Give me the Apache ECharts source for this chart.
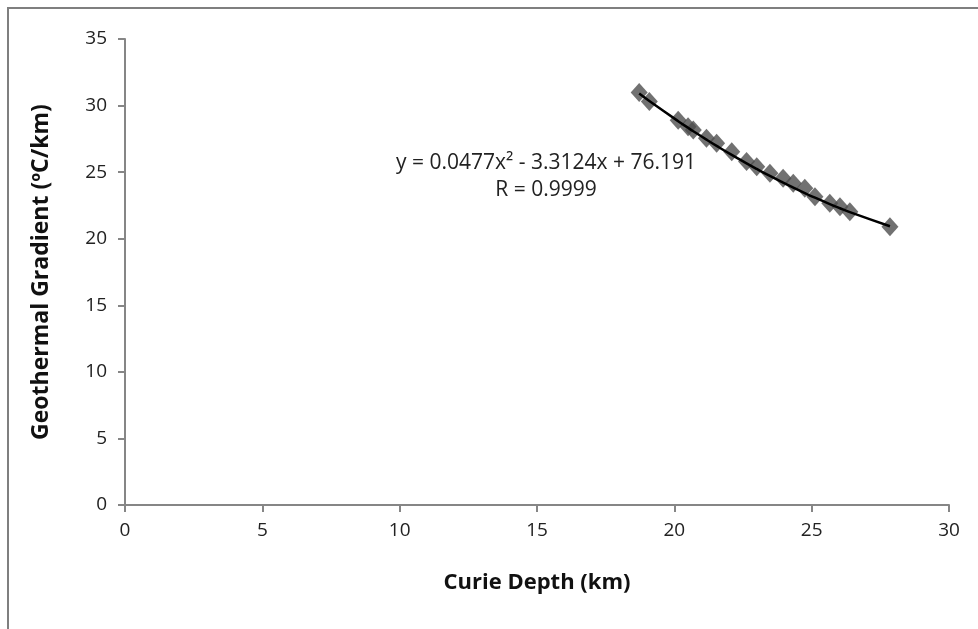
<!DOCTYPE html>
<html>
<head>
<meta charset="utf-8">
<script src="https://cdn.jsdelivr.net/npm/echarts@6/dist/echarts.min.js"></script>
<style>
  html, body { margin: 0; padding: 0; background: #fff; }
  #main { width: 978px; height: 629px; }
</style>
</head>
<body>
<div id="main"></div>
<script>
const chart = echarts.init(document.getElementById('main'))

// Curie depth (km) and geothermal gradient (°C/km)
const curieDepth = [18.72, 19.09, 20.14, 20.5, 20.69, 21.17, 21.54, 22.09, 22.63, 23.0, 23.48, 23.96, 24.33, 24.75, 25.12, 25.66, 26.03, 26.39, 27.85]
const gradient = [30.98, 30.3, 28.9, 28.4, 28.17, 27.55, 27.17, 26.54, 25.8, 25.4, 24.92, 24.54, 24.17, 23.79, 23.16, 22.66, 22.41, 22.03, 20.9]
// polynomial trendline as printed on the chart: a*x^2 + b*x + c
const trendCoef = [0.0477, -3.3124, 76.191]
const equationLines = ['y = 0.0477x² - 3.3124x + 76.191', 'R = 0.9999']

const points = curieDepth.map((x, i) => [x, gradient[i]])
const trend = curieDepth.map(x => [x, trendCoef[0] * x * x + trendCoef[1] * x + trendCoef[2]])

const font = '"Open Sans", "Noto Sans", sans-serif'
const axisGray = '#868686'

let option = {
  backgroundColor: '#fff',
  animation: false,
  grid: { left: 125, right: 29, top: 39, bottom: 124 },
  graphic: [
    {
      type: 'rect',
      shape: { x: 8, y: 8, width: 1000, height: 700 },
      style: { fill: 'none', stroke: '#7f7f7f', lineWidth: 2 },
      z: -1
    },
    {
      type: 'text',
      x: 546, y: 150,
      style: {
        text: equationLines.join('\n'),
        font: '21px ' + font,
        fill: '#222',
        align: 'center',
        lineHeight: 27
      }
    }
  ],
  xAxis: {
    type: 'value',
    min: 0, max: 30, interval: 5,
    name: 'Curie Depth (km)',
    nameLocation: 'middle',
    nameGap: 67,
    nameTextStyle: { fontFamily: font, fontSize: 22, fontWeight: 'bold', color: '#111' },
    axisLine: { show: true, lineStyle: { color: axisGray, width: 2 } },
    axisTick: { show: true, length: 7, lineStyle: { color: axisGray, width: 2 } },
    axisLabel: { fontFamily: font, fontSize: 19, color: '#222', margin: 16 },
    splitLine: { show: false }
  },
  yAxis: {
    type: 'value',
    min: 0, max: 35, interval: 5,
    name: 'Geothermal Gradient (ºC/km)',
    nameLocation: 'middle',
    nameGap: 72,
    nameTextStyle: { fontFamily: font, fontSize: 23, fontWeight: 'bold', color: '#111' },
    axisLine: { show: true, lineStyle: { color: axisGray, width: 2 } },
    axisTick: { show: true, length: 7, lineStyle: { color: axisGray, width: 2 } },
    axisLabel: { fontFamily: font, fontSize: 19, color: '#222', margin: 18 },
    splitLine: { show: false }
  },
  series: [
    {
      name: 'data',
      type: 'scatter',
      symbol: 'diamond',
      symbolSize: [17, 19],
      itemStyle: { color: '#4d4d4d' },
      data: points,
      z: 2
    },
    {
      name: 'trend',
      type: 'line',
      smooth: true,
      showSymbol: false,
      lineStyle: { color: '#000', width: 2.5 },
      data: trend,
      z: 3
    }
  ]
}

chart.setOption(option)
</script>
</body>
</html>
